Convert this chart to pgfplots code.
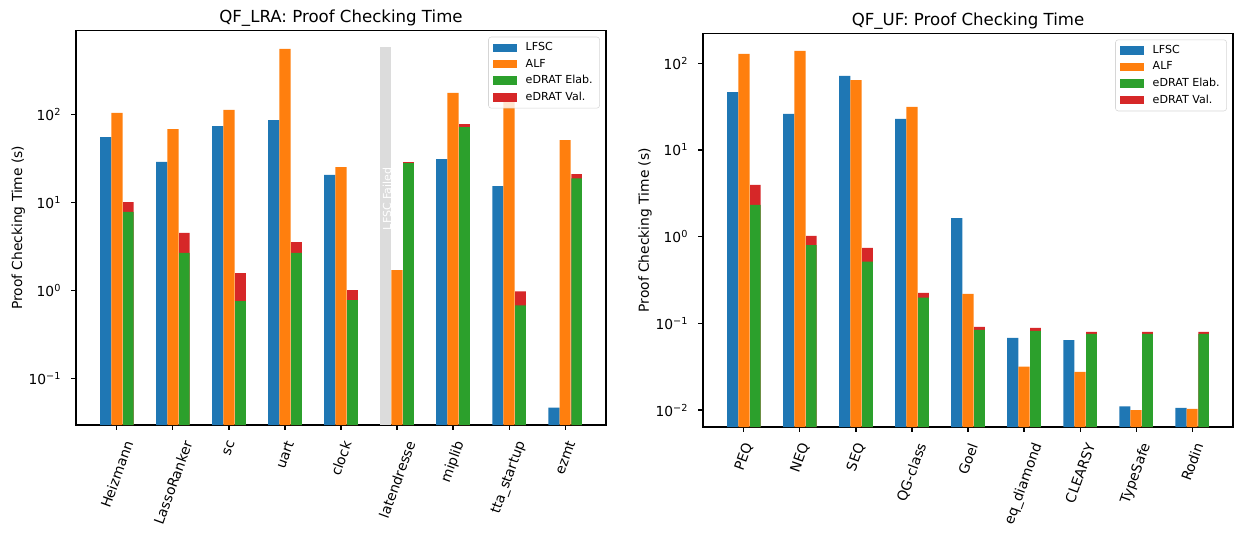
\documentclass[border=0pt]{standalone}
\usepackage{fontspec}
\setmainfont{DejaVu Sans}
\usepackage{graphicx}
\usepackage{pgfplots}
\usepackage{pgfplotstable}
\pgfplotsset{compat=1.18}
\definecolor{tabblue}{HTML}{1F77B4}
\definecolor{taborange}{HTML}{FF7F0E}
\definecolor{tabgreen}{HTML}{2CA02C}
\definecolor{tabred}{HTML}{D62728}
\definecolor{failgray}{HTML}{DCDCDC}

% columns: position, LFSC, ALF, eDRAT Elab., eDRAT Elab.+Val. (top of stack)
\pgfplotstableread{
x lfsc alf elab tot
0 55    103.5 7.8  10.1
1 28.8  68    2.67 4.5
2 73.6  112   0.76 1.58
3 86    551   2.67 3.55
4 20.5  25.2  0.78 1.01
5 nan   1.71  27.9 28.7
6 30.9  175   71.6 77.4
7 15.3  160   0.68 0.98
8 0.047 51    18.8 21
}\tabLRA
\pgfplotstableread{
x lfsc alf elab tot
0 46.6   128    2.32   3.95
1 26     139    0.80   1.02
2 71.5   64     0.515  0.74
3 22.8   31.3   0.198  0.224
4 1.64   0.218  0.084  0.091
5 0.068  0.0316 0.082  0.0887
6 0.064  0.0275 0.0755 0.0795
7 0.011  0.0100 0.0755 0.0795
8 0.0106 0.0103 0.0755 0.0795
}\tabUF

\newcommand\ylab{\pgfmathtruncatemacro{\ex}{round(\tick)}10\textsuperscript{\ifnum\ex<0 −\the\numexpr-\ex\relax\else\ex\fi}}

\begin{document}
\begin{tikzpicture}
\useasboundingbox (0,0) rectangle (889.2bp,384.48bp);

\begin{axis}[
  scale only axis,
  at={(54.72bp,78.48bp)}, anchor=south west,
  width=381.6bp, height=283.97bp,
  xmin=-0.73, xmax=8.73,
  ymode=log, log basis y=10, log origin y=infty,
  ymin=0.0298, ymax=891,
  xtick={0,...,8},
  ytick={0.1,1,10,100},
  tick align=outside, tick pos=left,
  major tick length=3.5bp, minor tick length=2bp,
  every tick/.style={black, line width=0.8bp},
  every minor tick/.style={black, line width=0.6bp},
  axis line style={line width=0.8bp},
  ticklabel style={font=\fontsize{10}{12}\selectfont},
  xticklabel style={anchor=north, inner sep=0pt, yshift=-7bp},
  yticklabel style={anchor=east, inner sep=0pt, xshift=-7bp},
  yticklabel={\ylab},
  ylabel={Proof Checking Time (s)},
  ylabel style={at={(axis description cs:0,0.5)}, anchor=center, yshift=41.5bp, font=\fontsize{10}{12}\selectfont},
  title={QF\_LRA: Proof Checking Time},
  title style={at={(0.5,1)}, anchor=base, inner sep=0pt, font=\fontsize{12}{14.4}\selectfont},
  xticklabels={\rotatebox{70}{Heizmann},\rotatebox{70}{LassoRanker},\rotatebox{70}{sc},\rotatebox{70}{uart},\rotatebox{70}{clock},\rotatebox{70}{latendresse},\rotatebox{70}{miplib},\rotatebox{70}{tta\_startup},\rotatebox{70}{ezmt}},
  legend style={at={(1,1)}, anchor=north east, xshift=-4.4bp, yshift=-4.4bp,
    draw=black!20, rounded corners=2bp, fill=white, fill opacity=0.8, draw opacity=0.8, text opacity=1,
    font=\fontsize{8}{9.6}\selectfont, inner xsep=3bp, inner ysep=2bp, row sep=0.5bp,
    cells={anchor=west}},
  legend image code/.code={\fill[#1, draw=none, sharp corners, fill opacity=1] (0bp,-3bp) rectangle (17.3bp,3bp); \path (21.6bp,0bp);},
]
\addlegendimage{fill=tabblue}
\addlegendentry{LFSC}
\addlegendimage{fill=taborange}
\addlegendentry{ALF}
\addlegendimage{fill=tabgreen}
\addlegendentry{eDRAT Elab.}
\addlegendimage{fill=tabred}
\addlegendentry{eDRAT Val.}
\addplot[ybar, bar width=0.2, bar shift=-0.2, draw=none, fill=failgray, forget plot] coordinates {(5,585)};
\addplot[ybar, bar width=0.2, bar shift=-0.2, draw=none, fill=tabblue, forget plot] table[x=x, y=lfsc] {\tabLRA};
\addplot[ybar, bar width=0.2, bar shift=0, draw=none, fill=taborange, forget plot] table[x=x, y=alf] {\tabLRA};
\addplot[ybar, bar width=0.19, bar shift=0.205, draw=none, fill=tabred, forget plot] table[x=x, y=tot] {\tabLRA};
\addplot[ybar, bar width=0.19, bar shift=0.205, draw=none, fill=tabgreen, forget plot] table[x=x, y=elab] {\tabLRA};
\node[rotate=90, text=white, font=\fontsize{8}{9.6}\selectfont] at (axis cs:4.82,11) {LFSC Failed};
\end{axis}

\begin{axis}[
  scale only axis,
  at={(506.16bp,77.04bp)}, anchor=south west,
  width=381.6bp, height=283.39bp,
  xmin=-0.73, xmax=8.73,
  ymode=log, log basis y=10, log origin y=infty,
  ymin=0.00637, ymax=221,
  xtick={0,...,8},
  ytick={0.01,0.1,1,10,100},
  tick align=outside, tick pos=left,
  major tick length=3.5bp, minor tick length=2bp,
  every tick/.style={black, line width=0.8bp},
  every minor tick/.style={black, line width=0.6bp},
  axis line style={line width=0.8bp},
  ticklabel style={font=\fontsize{10}{12}\selectfont},
  xticklabel style={anchor=north, inner sep=0pt, yshift=-7bp},
  yticklabel style={anchor=east, inner sep=0pt, xshift=-7bp},
  yticklabel={\ylab},
  ylabel={Proof Checking Time (s)},
  ylabel style={at={(axis description cs:0,0.5)}, anchor=center, yshift=41.8bp, font=\fontsize{10}{12}\selectfont},
  title={QF\_UF: Proof Checking Time},
  title style={at={(0.5,1)}, anchor=base, inner sep=0pt, font=\fontsize{12}{14.4}\selectfont},
  xticklabels={\rotatebox{70}{PEQ},\rotatebox{70}{NEQ},\rotatebox{70}{SEQ},\rotatebox{70}{QG-class},\rotatebox{70}{Goel},\rotatebox{70}{eq\_diamond},\rotatebox{70}{CLEARSY},\rotatebox{70}{TypeSafe},\rotatebox{70}{Rodin}},
  legend style={at={(1,1)}, anchor=north east, xshift=-4.4bp, yshift=-4.4bp,
    draw=black!20, rounded corners=2bp, fill=white, fill opacity=0.8, draw opacity=0.8, text opacity=1,
    font=\fontsize{8}{9.6}\selectfont, inner xsep=3bp, inner ysep=2bp, row sep=0.5bp,
    cells={anchor=west}},
  legend image code/.code={\fill[#1, draw=none, sharp corners, fill opacity=1] (0bp,-3bp) rectangle (17.3bp,3bp); \path (21.6bp,0bp);},
]
\addlegendimage{fill=tabblue}
\addlegendentry{LFSC}
\addlegendimage{fill=taborange}
\addlegendentry{ALF}
\addlegendimage{fill=tabgreen}
\addlegendentry{eDRAT Elab.}
\addlegendimage{fill=tabred}
\addlegendentry{eDRAT Val.}
\addplot[ybar, bar width=0.2, bar shift=-0.2, draw=none, fill=tabblue, forget plot] table[x=x, y=lfsc] {\tabUF};
\addplot[ybar, bar width=0.2, bar shift=0, draw=none, fill=taborange, forget plot] table[x=x, y=alf] {\tabUF};
\addplot[ybar, bar width=0.19, bar shift=0.205, draw=none, fill=tabred, forget plot] table[x=x, y=tot] {\tabUF};
\addplot[ybar, bar width=0.19, bar shift=0.205, draw=none, fill=tabgreen, forget plot] table[x=x, y=elab] {\tabUF};
\end{axis}
\end{tikzpicture}
\end{document}
